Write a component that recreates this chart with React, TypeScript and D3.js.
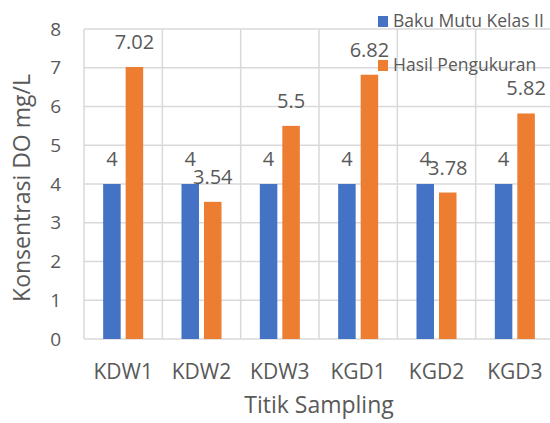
import React, { useEffect, useRef } from "react";
import * as d3 from "d3";

const categories = ["KDW1", "KDW2", "KDW3", "KGD1", "KGD2", "KGD3"];
const seriesNames = ["Baku Mutu Kelas II", "Hasil Pengukuran"];
const bakuMutu = [4, 4, 4, 4, 4, 4];
const hasil = [7.02, 3.54, 5.5, 6.82, 3.78, 5.82];
const labelsBaku = ["4", "4", "4", "4", "4", "4"];
const labelsHasil = ["7.02", "3.54", "5.5", "6.82", "3.78", "5.82"];
const yTicks = [0, 1, 2, 3, 4, 5, 6, 7, 8];

const colors = ["#4472C4", "#ED7D31"];
const textColor = "#595959";
const font = "'Open Sans', sans-serif";

const App = () => {
  const ref = useRef<SVGSVGElement>(null);

  useEffect(() => {
    const svg = d3.select(ref.current);
    svg.selectAll("*").remove();

    const left = 84, right = 554, top = 29, bottom = 339;

    const x = d3.scaleBand().domain(categories).range([left, right]).padding(0);
    const x1 = d3
      .scaleBand()
      .domain(seriesNames)
      .range([0, x.bandwidth()])
      .paddingInner(0.222)
      .paddingOuter(0.851);
    const y = d3.scaleLinear().domain([0, 8]).range([bottom, top]);

    // horizontal grid
    svg.append("g")
      .selectAll("line")
      .data(yTicks)
      .enter()
      .append("line")
      .attr("x1", left)
      .attr("x2", right)
      .attr("y1", d => y(d))
      .attr("y2", d => y(d))
      .attr("stroke", "#D9D9D9")
      .attr("stroke-width", 1.5);

    // vertical grid at category edges
    const edges = categories.map(c => x(c) as number).concat([right]);
    svg.append("g")
      .selectAll("line")
      .data(edges)
      .enter()
      .append("line")
      .attr("x1", d => d)
      .attr("x2", d => d)
      .attr("y1", top)
      .attr("y2", bottom)
      .attr("stroke", "#D9D9D9")
      .attr("stroke-width", 1.5);

    // y tick labels
    svg.append("g")
      .selectAll("text")
      .data(yTicks)
      .enter()
      .append("text")
      .attr("x", 61)
      .attr("y", d => y(d))
      .attr("dy", "0.35em")
      .attr("text-anchor", "end")
      .attr("fill", textColor)
      .style("font-family", font)
      .style("font-size", "19px")
      .text(d => d);

    // x tick labels
    svg.append("g")
      .selectAll("text")
      .data(categories)
      .enter()
      .append("text")
      .attr("x", d => (x(d) as number) + x.bandwidth() / 2)
      .attr("y", 379)
      .attr("text-anchor", "middle")
      .attr("fill", textColor)
      .style("font-family", font)
      .style("font-size", "21px")
      .text(d => d);

    const series = [
      { name: seriesNames[0], values: bakuMutu, labels: labelsBaku },
      { name: seriesNames[1], values: hasil, labels: labelsHasil },
    ];

    series.forEach((s, si) => {
      const g = svg.append("g");
      g.selectAll("rect")
        .data(s.values)
        .enter()
        .append("rect")
        .attr("x", (d, i) => (x(categories[i]) as number) + (x1(s.name) as number))
        .attr("y", d => y(d))
        .attr("width", x1.bandwidth())
        .attr("height", d => y(0) - y(d))
        .attr("fill", colors[si]);

      g.selectAll("text")
        .data(s.values)
        .enter()
        .append("text")
        .attr("x", (d, i) => (x(categories[i]) as number) + (x1(s.name) as number) + x1.bandwidth() / 2)
        .attr("y", d => y(d) - 18)
        .attr("text-anchor", "middle")
        .attr("fill", textColor)
        .style("font-family", font)
        .style("font-size", "20px")
        .text((d, i) => s.labels[i]);
    });

    // axis titles
    svg.append("text")
      .attr("transform", "translate(30,188) rotate(-90)")
      .attr("text-anchor", "middle")
      .attr("fill", textColor)
      .style("font-family", font)
      .style("font-size", "23px")
      .text("Konsentrasi DO mg/L");

    svg.append("text")
      .attr("x", (left + right) / 2)
      .attr("y", 413)
      .attr("text-anchor", "middle")
      .attr("fill", textColor)
      .style("font-family", font)
      .style("font-size", "23px")
      .text("Titik Sampling");

    // legend
    const legend = svg.append("g")
      .selectAll("g")
      .data(seriesNames)
      .enter()
      .append("g")
      .attr("transform", (d, i) => `translate(378, ${16 + i * 44})`);
    legend.append("rect")
      .attr("width", 10)
      .attr("height", 11)
      .attr("fill", (d, i) => colors[i]);
    legend.append("text")
      .attr("x", 15)
      .attr("y", 11)
      .attr("fill", textColor)
      .style("font-family", font)
      .style("font-size", "17.5px")
      .text(d => d);
  }, []);

  return (
    <svg
      ref={ref}
      width={550}
      height={423}
      style={{ position: "absolute", left: 0, top: 0, background: "#fff" }}
    />
  );
};

export default App;
